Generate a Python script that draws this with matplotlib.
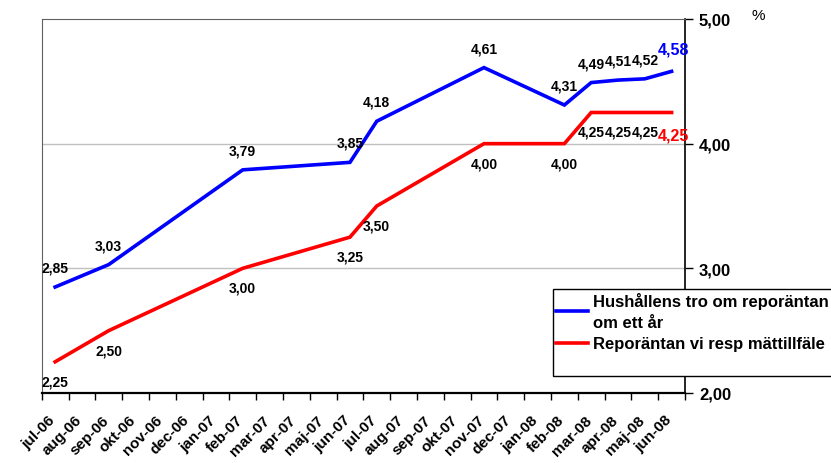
import matplotlib.pyplot as plt
import matplotlib.transforms as mtransforms
import numpy as np

plt.rcParams['font.family'] = ['Liberation Sans', 'DejaVu Sans']

# x axis categories
months = ['jul-06', 'aug-06', 'sep-06', 'okt-06', 'nov-06', 'dec-06',
          'jan-07', 'feb-07', 'mar-07', 'apr-07', 'maj-07', 'jun-07',
          'jul-07', 'aug-07', 'sep-07', 'okt-07', 'nov-07', 'dec-07',
          'jan-08', 'feb-08', 'mar-08', 'apr-08', 'maj-08', 'jun-08']

# months with a survey
survey_months = ['jul-06', 'sep-06', 'feb-07', 'jun-07', 'jul-07', 'nov-07',
                 'feb-08', 'mar-08', 'apr-08', 'maj-08', 'jun-08']
hushall = [2.85, 3.03, 3.79, 3.85, 4.18, 4.61, 4.31, 4.49, 4.51, 4.52, 4.58]
repo = [2.25, 2.50, 3.00, 3.25, 3.50, 4.00, 4.00, 4.25, 4.25, 4.25, 4.25]

label_hushall = 'Hushållens tro om reporäntan\nom ett år'
label_repo = 'Reporäntan vi resp mättillfäle'

def fmt(v):
    return ('%.2f' % v).replace('.', ',')

fig = plt.figure(figsize=(8.31, 4.64), dpi=100)
ax = fig.add_axes([0.0502, 0.1509, 0.7741, 0.8060])

xs = [months.index(m) for m in survey_months]
l1, = ax.plot(xs, hushall, color='#0000ff', lw=2.6, solid_joinstyle='miter')
l2, = ax.plot(xs, repo, color='#ff0000', lw=2.6, solid_joinstyle='miter')

# data labels
for i, (x, v) in enumerate(zip(xs, hushall)):
    if i == len(xs) - 1:
        ax.annotate(fmt(v), (x, v), xytext=(1, 16), textcoords='offset points',
                    ha='center', va='center', fontsize=11.5, fontweight='bold', color='#0000ff')
    else:
        ax.annotate(fmt(v), (x, v), xytext=(0, 14), textcoords='offset points',
                    ha='center', va='center', fontsize=10, fontweight='bold', color='black')
for i, (x, v) in enumerate(zip(xs, repo)):
    if i == len(xs) - 1:
        ax.annotate(fmt(v), (x, v), xytext=(1, -16), textcoords='offset points',
                    ha='center', va='center', fontsize=11.5, fontweight='bold', color='#ff0000')
    else:
        ax.annotate(fmt(v), (x, v), xytext=(0, -14), textcoords='offset points',
                    ha='center', va='center', fontsize=10, fontweight='bold', color='black')

ax.set_xlim(-0.5, len(months) - 0.5)
ax.set_ylim(2, 5)

# x ticks: marks at category boundaries, labels at centers
ax.set_xticks(np.arange(-0.5, len(months), 1.0))
ax.set_xticklabels([])
ax.tick_params(axis='x', which='major', length=5, width=1, direction='out', color='black')
ax.set_xticks(np.arange(len(months)), minor=True)
ax.set_xticklabels(months, minor=True, rotation=45, ha='right', rotation_mode='anchor',
                   fontsize=11, fontweight='bold')
ax.tick_params(axis='x', which='minor', length=0, pad=14)
shift = mtransforms.ScaledTranslation(-7 / 100, 0, fig.dpi_scale_trans)
for t in ax.get_xticklabels(minor=True):
    t.set_transform(t.get_transform() + shift)

# right y axis
ax.yaxis.tick_right()
ax.set_yticks([2, 3, 4, 5])
ax.set_yticklabels([fmt(v) for v in [2, 3, 4, 5]], fontsize=12, fontweight='bold')
ax.tick_params(axis='y', length=6, width=1, direction='out', pad=4, color='black')
for y in [3, 4]:
    ax.axhline(y, color='#c0c0c0', lw=1, zorder=0)

ax.spines['left'].set_color('#606060')
ax.spines['top'].set_color('#606060')
ax.spines['bottom'].set_color('black')
ax.spines['bottom'].set_linewidth(1.6)
ax.spines['right'].set_color('black')
ax.spines['right'].set_linewidth(1.2)

fig.text(758 / 831, 1 - 16 / 464, '%', fontsize=11, ha='center', va='center')

blank = plt.Line2D([], [], color='none')
leg = fig.legend([l1, l2, blank], [label_hushall, label_repo, ' '], loc='upper left',
                 bbox_to_anchor=(553 / 831, 1 - 290 / 464),
                 prop={'weight': 'bold', 'size': 12}, fancybox=False, framealpha=1,
                 edgecolor='black', handlelength=1.9, handletextpad=0.3,
                 borderpad=0.2, labelspacing=0.4, borderaxespad=0)
leg.get_frame().set_linewidth(1)
leg.get_texts()[0].set_linespacing(1.45)

fig.savefig('out.png', dpi=100)
